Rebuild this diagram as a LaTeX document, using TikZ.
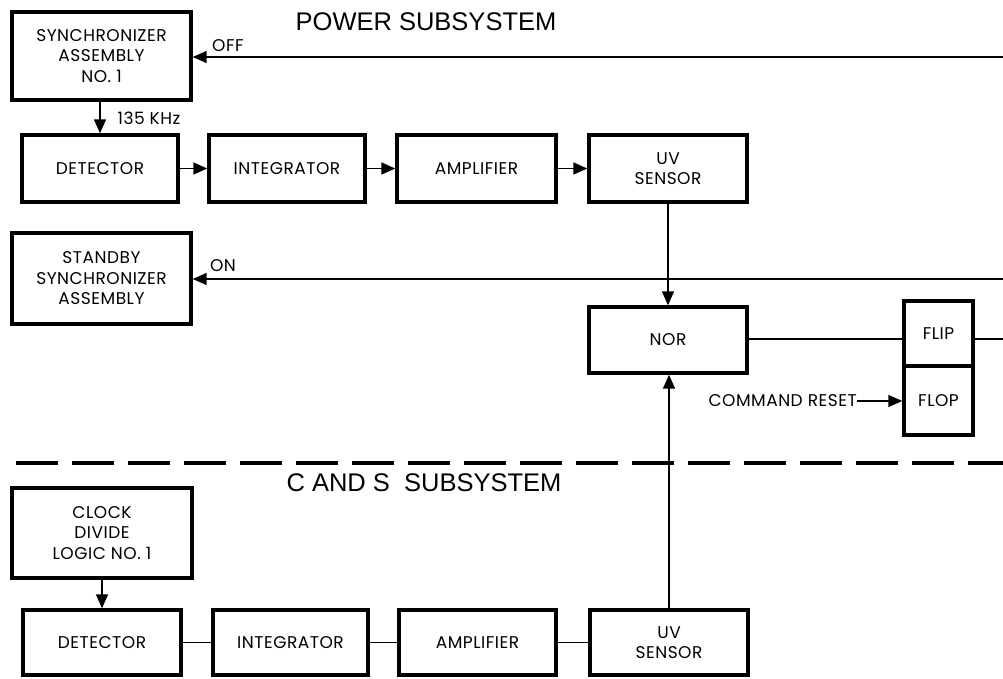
\documentclass[tikz,border=0pt]{standalone}
\usepackage{fontspec}
\setmainfont{Liberation Sans}
\newfontfamily\labfont[LetterSpace=3]{Poppins}
\newfontfamily\ttlfont{Liberation Sans}
\usetikzlibrary{arrows.meta}
\begin{document}
\begin{tikzpicture}[x=1pt,y=-1pt,
  blk/.style={draw, line width=3.4pt, inner sep=0pt, align=center,
    font=\labfont\fontsize{17}{20.5}\selectfont},
  conn/.style={line width=1.6pt},
  arr/.style={line width=1.6pt, -{Triangle[length=14pt,width=12pt]}},
  lbl/.style={inner sep=0pt, font=\labfont\fontsize{17}{20}\selectfont},
  ttl/.style={inner sep=0pt, font=\ttlfont\fontsize{25.5}{28}\selectfont},
  divider/.style={line width=3.6pt, dash pattern=on 42pt off 14pt}]
\useasboundingbox[fill=white] (0,0) rectangle (1003,678);

% titles
\node[ttl] (tpow) at (426,22) {POWER SUBSYSTEM};
\node[ttl] (tcs) at (424,483) {C AND S\ \ SUBSYSTEM};

% power subsystem blocks
\node[blk, minimum width=179pt, minimum height=88pt] (sync) at (101.5,56) {SYNCHRONIZER\\ASSEMBLY\\NO. 1};
\node[blk, minimum width=156pt, minimum height=67pt] (det1) at (100,168.5) {DETECTOR};
\node[blk, minimum width=156pt, minimum height=67pt] (int1) at (287,168.5) {INTEGRATOR};
\node[blk, minimum width=159pt, minimum height=67pt] (amp1) at (476.5,168.5) {AMPLIFIER};
\node[blk, minimum width=158pt, minimum height=67pt] (uv1) at (668,168.5) {UV\\SENSOR};
\node[blk, minimum width=179pt, minimum height=91pt] (stby) at (101.5,278.5) {STANDBY\\SYNCHRONIZER\\ASSEMBLY};
\node[blk, minimum width=158pt, minimum height=66pt] (nor) at (668,340) {NOR};
\node[blk, minimum width=69pt, minimum height=65pt] (flip) at (938.5,333.5) {FLIP};
\node[blk, minimum width=69pt, minimum height=69pt] (flop) at (938.5,400.5) {FLOP};

% C and S subsystem blocks
\node[blk, minimum width=180pt, minimum height=90pt] (clk) at (102,533) {CLOCK\\DIVIDE\\LOGIC NO. 1};
\node[blk, minimum width=158pt, minimum height=65pt] (det2) at (102,642.5) {DETECTOR};
\node[blk, minimum width=155pt, minimum height=65pt] (int2) at (290.5,642.5) {INTEGRATOR};
\node[blk, minimum width=157pt, minimum height=65pt] (amp2) at (477.5,642.5) {AMPLIFIER};
\node[blk, minimum width=158pt, minimum height=65pt] (uv2) at (669,642.5) {UV\\SENSOR};

% labels
\node[lbl] (loff) at (228,46) {OFF};
\node[lbl] (lon) at (223,266) {ON};
\node[lbl] (lkhz) at (149,118) {135 KHz};
\node[lbl, anchor=east] (lcr) at (857,401) {COMMAND RESET};

% free ends
\coordinate (offR) at (1003,57);
\coordinate (onR) at (1003,279);
\coordinate (flipR) at (1003,339);
\coordinate (dashL) at (16,463);
\coordinate (dashR) at (1003,463);

% connectors
\draw[arr] (offR) -- (sync.east |- offR);
\draw[arr] (sync.south -| det1.north) -- (det1.north);
\draw[arr] (det1) -- (int1);
\draw[arr] (int1) -- (amp1);
\draw[arr] (amp1) -- (uv1);
\draw[arr] (uv1.south) -- (nor.north);
\draw[arr] (onR) -- (stby.east |- onR);
\draw[conn] (nor.east |- flipR) -- (flip.west |- flipR);
\draw[conn] (flip.east |- flipR) -- (flipR);
\draw[arr] (lcr.east) -- (flop.west |- lcr.east);
\draw[arr] (uv2.north) -- (nor.south -| uv2.north);
\draw[arr] (clk.south) -- (det2.north -| clk.south);
\draw[conn] (det2) -- (int2);
\draw[conn] (int2) -- (amp2);
\draw[conn] (amp2) -- (uv2);

% subsystem divider
\draw[divider] (dashL) -- (dashR);
\end{tikzpicture}
\end{document}
